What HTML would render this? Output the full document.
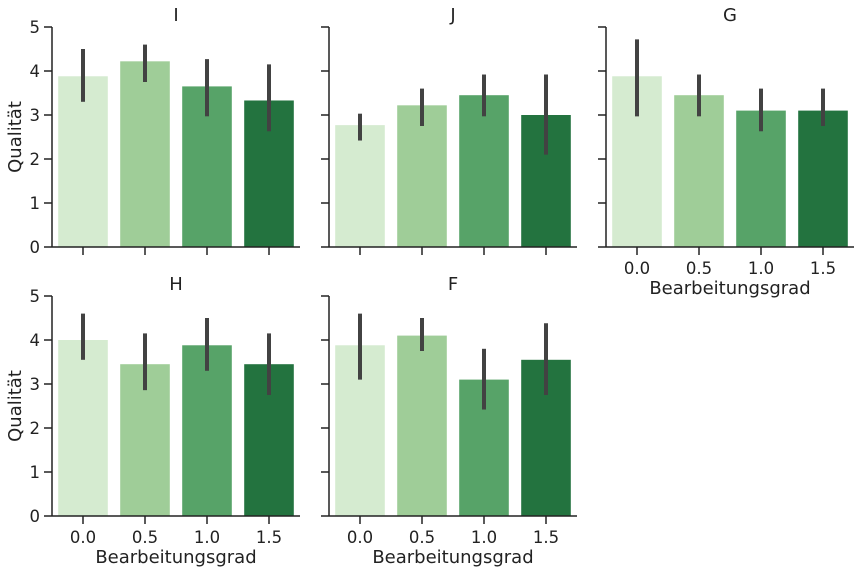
<!DOCTYPE html>
<html><head><meta charset="utf-8"><style>body{margin:0;background:#fff}svg{font-family:"DejaVu Sans","Liberation Sans",sans-serif}</style></head>
<body>
<svg id="c" width="861" height="573" xmlns="http://www.w3.org/2000/svg"></svg>
<script>
const panelTitles=["I","J","G","H","F"];
const categories=["0.0","0.5","1.0","1.5"];
const valuesI=[3.88,4.22,3.65,3.33];
const valuesJ=[2.77,3.22,3.45,3.0];
const valuesG=[3.88,3.45,3.1,3.1];
const valuesH=[4.0,3.45,3.88,3.45];
const valuesF=[3.88,4.1,3.1,3.55];
const lowI=[3.3,3.75,2.97,2.63], highI=[4.5,4.6,4.27,4.15];
const lowJ=[2.42,2.75,2.97,2.1], highJ=[3.03,3.6,3.92,3.92];
const lowG=[2.97,2.97,2.63,2.75], highG=[4.72,3.92,3.6,3.6];
const lowH=[3.55,2.86,3.3,2.75], highH=[4.6,4.15,4.5,4.15];
const lowF=[3.1,3.75,2.42,2.75], highF=[4.6,4.5,3.8,4.38];
const yTicks=[0,1,2,3,4,5];
const vals=[valuesI,valuesJ,valuesG,valuesH,valuesF];
const lows=[lowI,lowJ,lowG,lowH,lowF], highs=[highI,highJ,highG,highH,highF];
const colors=["#d5ebd0","#9fcd98","#57a368","#23733f"];
const NS="http://www.w3.org/2000/svg";
const svg=document.getElementById('c');
function mk(t,a,p){const e=document.createElementNS(NS,t);for(const k in a)e.setAttribute(k,a[k]);(p||svg).appendChild(e);return e;}
const lefts=[52,329,606,52,329], tops=[27,27,27,296,296];
const W=248,H=220;
for(let p=0;p<5;p++){
  const g=mk('g',{});
  
  
  const x0=lefts[p],y0=tops[p];
  const ys=v=>y0+H-v/5*H;
  const step=W/categories.length;
  const xs=i=>x0+step*(i+0.5);
  const t=mk('text',{x:x0+W/2,y:y0-6,'text-anchor':'middle','font-size':18,fill:'#222'},g);t.textContent=panelTitles[p];
  
  for(let i=0;i<categories.length;i++){
    const b=mk('rect',{x:xs(i)-step*0.4,y:ys(vals[p][i]),width:step*0.8,height:ys(0)-ys(vals[p][i]),fill:colors[i]},g);
    
    const e=mk('line',{x1:xs(i),x2:xs(i),y1:ys(lows[p][i]),y2:ys(highs[p][i]),stroke:'#424242','stroke-width':4},g);
    
    mk('line',{x1:xs(i),x2:xs(i),y1:y0+H,y2:y0+H+8,stroke:'#222','stroke-width':1.5},g);
    if(p>=2){const l=mk('text',{x:xs(i),y:y0+H+27,'text-anchor':'middle','font-size':16.5,fill:'#222'},g);l.textContent=categories[i];
      }
  }
  for(const v of yTicks){
    mk('line',{x1:x0-8,x2:x0,y1:ys(v),y2:ys(v),stroke:'#222','stroke-width':1.5},g);
    if(p==0||p==3){const l=mk('text',{x:x0-12,y:ys(v)+6,'text-anchor':'end','font-size':16.5,fill:'#222'},g);l.textContent=v;
      }
  }
  mk('line',{x1:x0,x2:x0,y1:y0,y2:y0+H,stroke:'#222','stroke-width':1.5},g);
  mk('line',{x1:x0,x2:x0+W,y1:y0+H,y2:y0+H,stroke:'#222','stroke-width':1.5},g);
  if(p>=2){const a=mk('text',{x:x0+W/2,y:y0+H+47,'text-anchor':'middle','font-size':18,fill:'#222'},g);a.textContent='Bearbeitungsgrad';
    }
  if(p==0||p==3){const a=mk('text',{x:0,y:0,'text-anchor':'middle','font-size':18,fill:'#222',transform:`translate(21,${y0+H/2}) rotate(-90)`},g);a.textContent='Qualität';
    }
}
</script>
</body></html>
